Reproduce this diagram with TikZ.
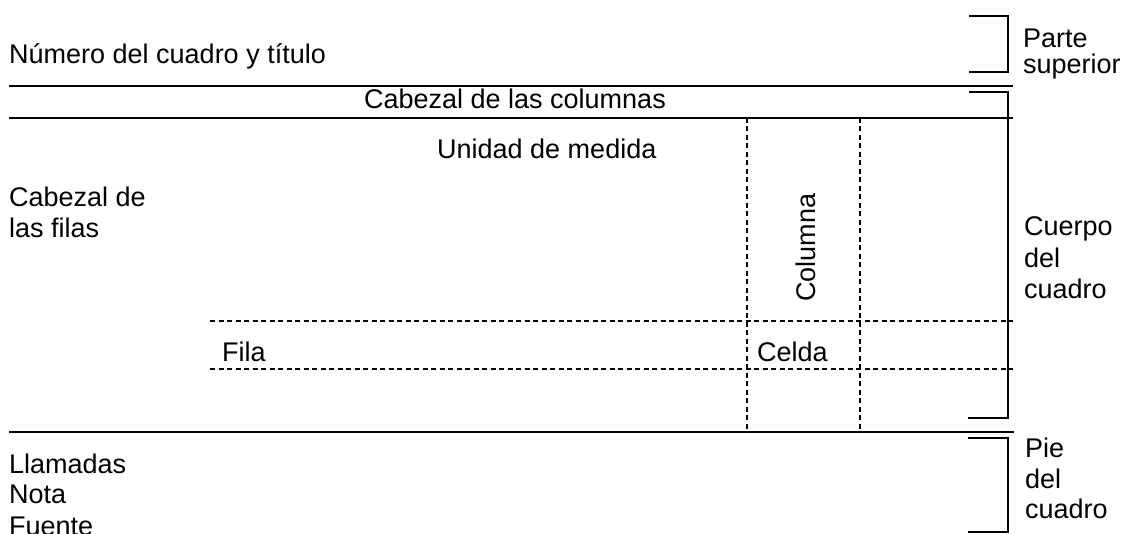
\documentclass[tikz,border=0pt]{standalone}
\usepackage{fontspec}
\setmainfont{Liberation Sans}
\begin{document}
\begin{tikzpicture}[x=1pt,y=-1pt,
  lbl/.style={inner sep=0pt,anchor=base west,font=\fontsize{27}{31}\selectfont},
  solidline/.style={line width=1.6pt},
  bracketline/.style={line width=1.4pt},
  dashline/.style={line width=1.3pt,dash pattern=on 5pt off 3.5pt}]
\useasboundingbox (0,0) rectangle (1122,534);
% solid rules
\draw[solidline] (9,86) -- (1013,86);
\draw[solidline] (9,118) -- (1013,118);
\draw[solidline] (9,432) -- (1014,432);
% brackets
\draw[bracketline] (969,16) -- (1008,16) -- (1008,72) -- (969,72);
\draw[bracketline] (969,92) -- (1008,92) -- (1008,418) -- (968,418);
\draw[bracketline] (968,438) -- (1008,438) -- (1008,532) -- (968,532);
% dashed grid
\draw[dashline] (747,118) -- (747,432);
\draw[dashline] (860,118) -- (860,432);
\draw[dashline] (210,321) -- (1013,321);
\draw[dashline] (210,369) -- (1013,369);
% texts
\node[lbl] (title) at (9,64) {Número del cuadro y título};
\node[lbl,anchor=base] (colhead) at (515,109) {Cabezal de las columnas};
\node[lbl] (unidad) at (437,159) {Unidad de medida};
\node[lbl] (rowhead1) at (9,207) {Cabezal de};
\node[lbl] (rowhead2) at (9,238) {las filas};
\node[lbl,rotate=90] (columna) at (815,302) {Columna};
\node[lbl] (fila) at (222,362) {Fila};
\node[lbl] (celda) at (757,362) {Celda};
\node[lbl] (parte1) at (1023,48) {Parte};
\node[lbl] (parte2) at (1023,74) {superior};
\node[lbl] (cuerpo1) at (1024,236) {Cuerpo};
\node[lbl] (cuerpo2) at (1024,268) {del};
\node[lbl] (cuerpo3) at (1024,299) {cuadro};
\node[lbl] (pie1) at (1025,457) {Pie};
\node[lbl] (pie2) at (1025,488) {del};
\node[lbl] (pie3) at (1025,518) {cuadro};
\node[lbl] (llam) at (9,473) {Llamadas};
\node[lbl] (nota) at (9,503) {Nota};
\node[lbl] (fuente) at (9,535) {Fuente};
\end{tikzpicture}
\end{document}
